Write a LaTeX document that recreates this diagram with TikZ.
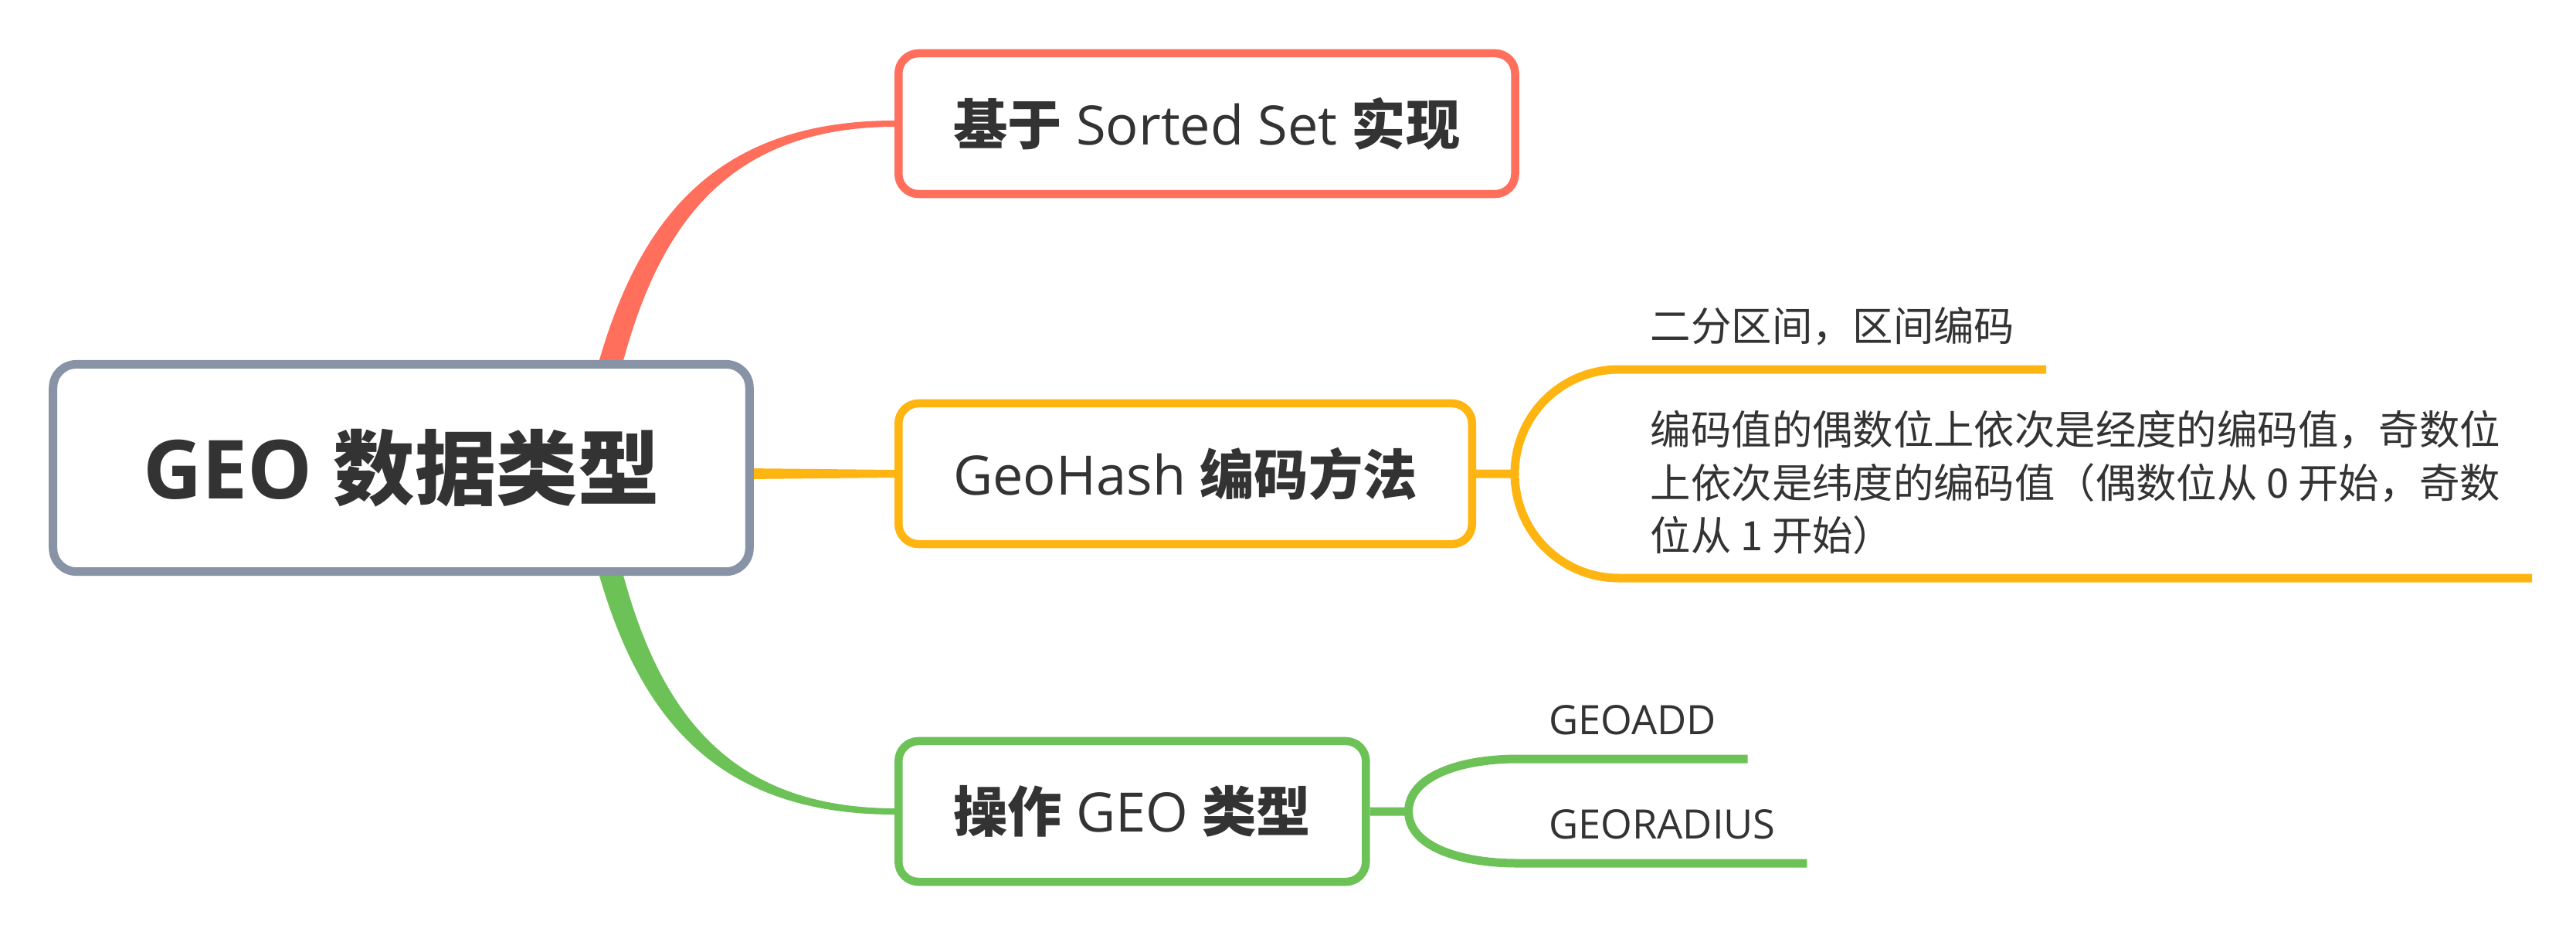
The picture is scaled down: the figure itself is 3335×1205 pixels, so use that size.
\documentclass[tikz,border=0pt]{standalone}
\usepackage{fontspec}
\setmainfont{Open Sans}
\newfontfamily\cjk{Noto Sans CJK SC}
\usetikzlibrary{positioning,calc,backgrounds}

\definecolor{rootgray}{HTML}{8893A6}
\definecolor{redline}{HTML}{FF6F5C}
\definecolor{yellowline}{HTML}{FFB511}
\definecolor{greenline}{HTML}{6CC257}
\definecolor{ink}{HTML}{333333}

\newcommand{\zh}[1]{{\cjk #1}}
\newcommand{\zhb}[1]{{\cjk\bfseries #1}}

\begin{document}
\begin{tikzpicture}[
  x=0.01cm,y=-0.01cm,
  every node/.style={text=ink},
  root/.style={rectangle,draw=rootgray,line width=0.11cm,rounded corners=0.3cm,fill=white,minimum width=9.01cm,minimum height=2.68cm,font=\fontsize{30}{36}\selectfont\bfseries},
  topic/.style={rectangle,draw=#1,line width=0.105cm,rounded corners=0.26cm,fill=white,minimum height=1.82cm,inner xsep=0.71cm,anchor=west,font=\fontsize{20}{24}\selectfont},
  leaf/.style={anchor=south west,inner xsep=0.4cm,inner ysep=0.3cm,align=left,font=\fontsize{14.9}{19.4}\selectfont},
  twig/.style={draw=#1,line width=0.11cm,line join=round},
]
\useasboundingbox (0,0) rectangle (3335,1205);

\node (geo) [root] at (519.5,605.5) {GEO \zh{数据类型}};

\node (sorted) [topic=redline] at (1158,160) {\zhb{基于} Sorted Set \zhb{实现}};
\node (geohash) [topic=yellowline] at (1158,613) {GeoHash \zhb{编码方法}};
\node (ops) [topic=greenline] at (1158,1050) {\zhb{操作} GEO \zhb{类型}};

% GeoHash leaves
\coordinate (yfork) at ($(geohash.east)+(50,0)$);
\node (bisect) [leaf] at ($(yfork)+(135,-135)$) {\zh{二分区间，区间编码}};
\node (parity) [leaf] at ($(yfork)+(135,135)$) {\zh{编码值的偶数位上依次是经度的编码值，奇数位}\\
  \zh{上依次是纬度的编码值（偶数位从 0 开始，奇数}\\
  \zh{位从 1 开始）}};

% command leaves
\coordinate (gfork) at ($(ops.east)+(50,0)$);
\node (geoadd) [leaf] at ($(gfork)+(141,-68)$) {GEOADD};
\node (georadius) [leaf] at ($(gfork)+(141,67)$) {GEORADIUS};

\begin{scope}[on background layer]
\fill[redline] ($(geo.center)+(225,0)$) .. controls +(45,-255) and +(-285,0) .. ($(sorted.west)+(0,-4)$)
  -- ($(sorted.west)+(0,4)$) .. controls +(-265,1) and +(42,-250) .. ($(geo.center)+(258,0)$) -- cycle;
\fill[greenline] ($(geo.center)+(225,0)$) .. controls +(45,255) and +(-285,0) .. ($(ops.west)+(0,4)$)
  -- ($(ops.west)+(0,-4)$) .. controls +(-265,-1) and +(42,250) .. ($(geo.center)+(258,0)$) -- cycle;
\fill[yellowline] ($(geo.east |- geohash.west)+(-10,-7)$) -- ($(geohash.west)+(0,-5)$)
  -- ($(geohash.west)+(0,5)$) -- ($(geo.east |- geohash.west)+(-10,7)$) -- cycle;
\end{scope}

\draw[twig=yellowline] (geohash.east) -- (yfork) .. controls +(0,-75) and +(-75,0) .. (bisect.south west) -- (bisect.south east);
\draw[twig=yellowline] (yfork) .. controls +(0,75) and +(-75,0) .. (parity.south west) -- (parity.south east);
\draw[twig=greenline] (ops.east) -- (gfork) .. controls +(0,-45) and +(-75,0) .. (geoadd.south west) -- (geoadd.south east);
\draw[twig=greenline] (gfork) .. controls +(0,45) and +(-75,0) .. (georadius.south west) -- (georadius.south east);
\end{tikzpicture}
\end{document}
